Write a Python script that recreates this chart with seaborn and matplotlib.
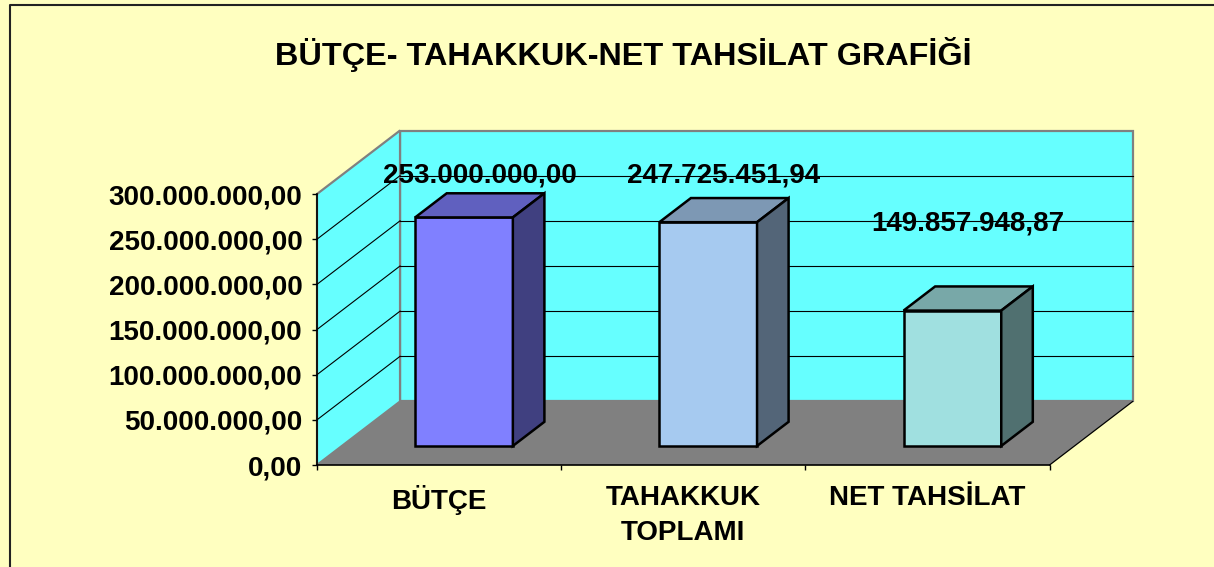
import matplotlib
matplotlib.use('Agg')
import matplotlib.pyplot as plt
import seaborn as sns
from matplotlib.patches import Polygon, Rectangle
from matplotlib.lines import Line2D
import matplotlib.transforms as mtransforms

import numpy as np
import pandas as pd

# ----------------------------------------------------------------------
# chart data
# ----------------------------------------------------------------------
categories = ["BÜTÇE", "TAHAKKUK\nTOPLAMI", "NET TAHSİLAT"]
values = [253000000.00, 247725451.94, 149857948.87]
y_ticks = [0, 50e6, 100e6, 150e6, 200e6, 250e6, 300e6]
title = "BÜTÇE- TAHAKKUK-NET TAHSİLAT GRAFİĞİ"

front_colors = ["#8080FF", "#A6CAF0", "#A0E0E0"]

BG = "#FFFFC0"
WALL = "#66FFFF"
FLOOR = "#808080"

# pseudo-3D geometry (in data units)
DX = 0.340          # depth shift along x (category units)
DY = 70.3e6         # depth shift along y (value units)
Z0, Z1 = 0.30, 0.68  # bar front / back depth fraction
Y_TOP = 300e6
FS = 20


def tr_fmt(v):
    s = f"{v:,.2f}"
    return s.replace(",", "X").replace(".", ",").replace("X", ".")


def shade(hex_color, k):
    r, g, b = matplotlib.colors.to_rgb(hex_color)
    return (r * k, g * k, b * k)


plt.rcParams['font.family'] = ['Liberation Sans', 'DejaVu Sans']
plt.rcParams['font.weight'] = 'bold'

fig = plt.figure(figsize=(12.14, 5.67), dpi=100, facecolor=BG)
ax = fig.add_axes([0, 0, 1, 1])
ax.set_facecolor(BG)

df = pd.DataFrame({"kalem": categories, "tutar": values})
sns.barplot(data=df, x="kalem", y="tutar", hue="kalem", palette=front_colors,
            legend=False, width=0.40, saturation=1, edgecolor="black",
            linewidth=1.8, ax=ax, zorder=3)

# figure mapping: x -0.5 -> px 317, 244.2 px/category ; y 0 -> px 465, 0.9033 px/M
ax.set_xlim(-0.5 - 317 / 244.2, -0.5 + (1214 - 317) / 244.2)
ax.set_ylim(-(567 - 465) / 0.9033 * 1e6, 465 / 0.9033 * 1e6)

# walls and floor
n = len(categories)
x_l, x_r = -0.5, n - 0.5
ax.add_patch(Polygon([(x_l, 0), (x_r, 0), (x_r + DX, DY), (x_l + DX, DY)],
                     closed=True, facecolor=FLOOR, edgecolor="none", zorder=0.5))
ax.add_patch(Rectangle((x_l + DX, DY), n, Y_TOP, facecolor=WALL,
                       edgecolor="#808080", linewidth=1.6, zorder=0.4))
ax.add_patch(Polygon([(x_l, 0), (x_l + DX, DY), (x_l + DX, DY + Y_TOP), (x_l, Y_TOP)],
                     closed=True, facecolor=WALL, edgecolor="#808080",
                     linewidth=1.6, zorder=0.4))
ax.add_line(Line2D([x_r, x_r + DX], [0, DY], color="black", lw=0.9, zorder=0.6))

for v in y_ticks[1:-1]:
    ax.add_line(Line2D([x_l + DX, x_r + DX], [v + DY, v + DY], color="black", lw=0.8, zorder=0.6))
    ax.add_line(Line2D([x_l, x_l + DX], [v, v + DY], color="black", lw=0.8, zorder=0.6))

# push bar fronts back into the box and add top / side faces
shift = mtransforms.Affine2D().translate(Z0 * DX, Z0 * DY) + ax.transData
ddx, ddy = (Z1 - Z0) * DX, (Z1 - Z0) * DY
for p, col, v in zip(ax.patches[:n], front_colors, values):
    p.set_transform(shift)
    x0 = p.get_x() + Z0 * DX
    w = p.get_width()
    y0 = Z0 * DY
    h = p.get_height()
    top = [(x0, y0 + h), (x0 + w, y0 + h), (x0 + w + ddx, y0 + h + ddy), (x0 + ddx, y0 + h + ddy)]
    side = [(x0 + w, y0), (x0 + w + ddx, y0 + ddy), (x0 + w + ddx, y0 + h + ddy), (x0 + w, y0 + h)]
    ax.add_patch(Polygon(top, closed=True, facecolor=shade(col, 0.75), edgecolor="black",
                         linewidth=1.8, zorder=3))
    ax.add_patch(Polygon(side, closed=True, facecolor=shade(col, 0.5), edgecolor="black",
                         linewidth=1.8, zorder=3))

# value labels
zm = (Z0 + Z1) / 2
for i, v in enumerate(values):
    yl = min(v + zm * DY + 82.5e6, 321e6)
    ax.text(i + zm * DX, yl, tr_fmt(v), ha="center", va="center",
            fontsize=FS, fontweight="bold", zorder=5)

# axes
for s in ["top", "right"]:
    ax.spines[s].set_visible(False)
ax.spines["left"].set_position(("data", x_l))
ax.spines["left"].set_bounds(0, Y_TOP)
ax.spines["bottom"].set_position(("data", 0))
ax.spines["bottom"].set_bounds(x_l, x_r)
for s in ["left", "bottom"]:
    ax.spines[s].set_linewidth(1.2)
    ax.spines[s].set_zorder(4)

ax.set_yticks(y_ticks, [tr_fmt(t) for t in y_ticks])
ax.tick_params(axis="y", length=3.6, width=1, pad=7, labelsize=FS)
ax.set_xticks(np.arange(n + 1) - 0.5, [""] * (n + 1))
ax.set_xticks(np.arange(n), categories, minor=True)
ax.tick_params(axis="x", which="major", length=3.6, width=1)
ax.tick_params(axis="x", which="minor", length=0, pad=14.5, labelsize=FS)
for lab in ax.get_yticklabels() + ax.get_xticklabels(minor=True):
    lab.set_fontweight("bold")
    lab.set_linespacing(1.45)
ax.set_xlabel("")
ax.set_ylabel("")

fig.text(623 / 1214, 1 - 55 / 567, title, ha="center", va="center",
         fontsize=23.3, fontweight="bold")

# chart-area frame
fig.add_artist(Line2D([10 / 1214, 10 / 1214, 1.0], [0, 1 - 5 / 567, 1 - 5 / 567],
                      transform=fig.transFigure, color="#222222", lw=1.5))

fig.savefig("out.png", dpi=100, facecolor=BG)
